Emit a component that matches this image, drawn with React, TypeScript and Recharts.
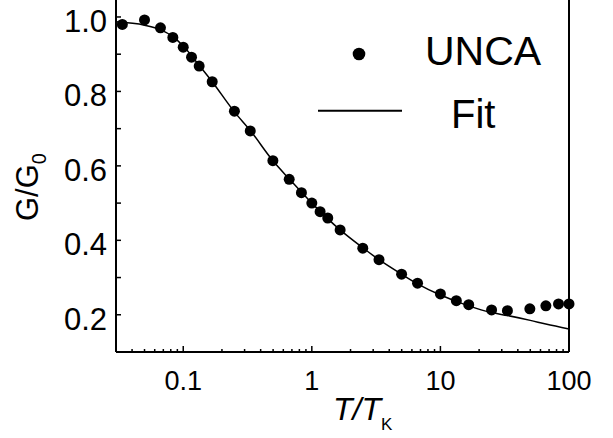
import React from "react";
import { ComposedChart, Scatter, Line, XAxis, YAxis } from "recharts";

// UNCA points
const uncaT = [
  0.0336, 0.05, 0.0665, 0.083, 0.1, 0.116, 0.133, 0.168, 0.25, 0.332, 0.498,
  0.667, 0.83, 1.0, 1.16, 1.33, 1.66, 2.49, 3.33, 4.99, 6.64, 10, 13.3, 16.6,
  25.0, 33.2, 49.6, 66.1, 82.9, 100,
];
const uncaG = [
  0.98, 0.992, 0.971, 0.945, 0.919, 0.892, 0.868, 0.826, 0.747, 0.694, 0.614,
  0.564, 0.528, 0.5, 0.477, 0.46, 0.428, 0.379, 0.348, 0.309, 0.285, 0.256,
  0.238, 0.227, 0.213, 0.211, 0.216, 0.224, 0.229, 0.229,
];

// fit curve, sampled from the figure
const fitT = [
  0.03, 0.05, 0.0665, 0.083, 0.1, 0.133, 0.168, 0.25, 0.332, 0.5, 0.667, 1.0,
  1.66, 2.49, 3.33, 4.99, 6.64, 10, 13.3, 16.6, 25, 33.2, 50, 66, 100,
];
const fitG = [
  0.987, 0.978, 0.966, 0.947, 0.922, 0.87, 0.826, 0.745, 0.695, 0.613, 0.565,
  0.5, 0.428, 0.38, 0.348, 0.309, 0.283, 0.253, 0.236, 0.224, 0.206, 0.198,
  0.185, 0.175, 0.162,
];

const xMajor = [0.1, 1, 10, 100];
const xMinor = [
  0.04, 0.05, 0.06, 0.07, 0.08, 0.09, 0.2, 0.3, 0.4, 0.5, 0.6, 0.7, 0.8, 0.9,
  2, 3, 4, 5, 6, 7, 8, 9, 20, 30, 40, 50, 60, 70, 80, 90,
];
const yTicks = [0.2, 0.3, 0.4, 0.5, 0.6, 0.7, 0.8, 0.9, 1.0];
const yLabels = [0.2, 0.4, 0.6, 0.8, 1.0];

const unca = uncaT.map((T, i) => ({ T, G: uncaG[i] }));
const fit = fitT.map((T, i) => ({ T, G: fitG[i] }));
const xTicks = [...xMinor, ...xMajor].sort((a, b) => a - b);

const FONT = "'Liberation Sans', Arial, sans-serif";
const X_DOMAIN = [0.03, 100];
const Y_DOMAIN = [0.1, 1.0456];

const BottomTick = (props: any) => {
  const { x, y, payload } = props;
  const major = xMajor.includes(payload.value);
  return (
    <g>
      <line x1={x} y1={y} x2={x} y2={y - (major ? 6 : 3)} stroke="#000" strokeWidth={1.5} />
      {major && (
        <text x={x} y={y + 38} textAnchor="middle" fontSize={27} fontFamily={FONT} fill="#000">
          {payload.value}
        </text>
      )}
    </g>
  );
};

const TopTick = (props: any) => {
  const { x, y, payload } = props;
  const major = xMajor.includes(payload.value);
  return <line x1={x} y1={y} x2={x} y2={y + (major ? 6 : 3)} stroke="#000" strokeWidth={1.5} />;
};

const LeftTick = (props: any) => {
  const { x, y, payload } = props;
  const labelled = yLabels.some((v) => Math.abs(v - payload.value) < 1e-6);
  return (
    <g>
      <line x1={x} y1={y} x2={x + 5} y2={y} stroke="#000" strokeWidth={1.5} />
      {labelled && (
        <text x={x - 9} y={y + 15} textAnchor="end" fontSize={31} fontFamily={FONT} fill="#000">
          {payload.value.toFixed(1)}
        </text>
      )}
    </g>
  );
};

const RightTick = (props: any) => {
  const { x, y } = props;
  return <line x1={x} y1={y} x2={x - 5} y2={y} stroke="#000" strokeWidth={1.5} />;
};

const Dot = (props: any) => <circle cx={props.cx} cy={props.cy} r={5.5} fill="#000" />;

export default function App() {
  return (
    <div style={{ position: "absolute", left: 0, top: 0, width: 613, height: 438, background: "#fff" }}>
      <ComposedChart width={613} height={438} margin={{ top: 0, right: 0, bottom: 0, left: 0 }}>
        <XAxis
          dataKey="T"
          type="number"
          scale="log"
          domain={X_DOMAIN}
          ticks={xTicks}
          interval={0}
          height={86}
          tickSize={0}
          tickMargin={0}
          tickLine={false}
          tick={<BottomTick />}
          axisLine={{ stroke: "#000", strokeWidth: 2 }}
          label={{
            content: () => (
              <text x={333} y={420} fontSize={32} fontStyle="italic" fontFamily={FONT} fill="#000">
                T/T
                <tspan fontSize={17} fontStyle="normal" dy={10}>K</tspan>
              </text>
            ),
          }}
        />
        <XAxis
          xAxisId="top"
          orientation="top"
          type="number"
          scale="log"
          domain={X_DOMAIN}
          ticks={xTicks}
          interval={0}
          height={0}
          tickSize={0}
          tickMargin={0}
          tickLine={false}
          tick={<TopTick />}
          axisLine={false}
        />
        <YAxis
          dataKey="G"
          type="number"
          domain={Y_DOMAIN}
          ticks={yTicks}
          interval={0}
          width={116}
          tickSize={0}
          tickMargin={0}
          tickLine={false}
          tick={<LeftTick />}
          axisLine={{ stroke: "#000", strokeWidth: 2 }}
          label={{
            content: () => (
              <text transform="translate(38,221) rotate(-90)" fontSize={31} fontFamily={FONT} fill="#000">
                G/G
                <tspan fontSize={20} dy={8}>0</tspan>
              </text>
            ),
          }}
        />
        <YAxis
          yAxisId="right"
          orientation="right"
          type="number"
          domain={Y_DOMAIN}
          ticks={yTicks}
          interval={0}
          width={44}
          tickSize={0}
          tickMargin={0}
          tickLine={false}
          tick={<RightTick />}
          axisLine={{ stroke: "#000", strokeWidth: 2 }}
        />
        <Line
          data={fit}
          dataKey="G"
          type="monotone"
          stroke="#000"
          strokeWidth={1.5}
          dot={false}
          activeDot={false}
          isAnimationActive={false}
        />
        <Scatter data={unca} dataKey="G" shape={<Dot />} isAnimationActive={false} />
      </ComposedChart>
      <svg
        width={613}
        height={438}
        style={{ position: "absolute", left: 0, top: 0, pointerEvents: "none" }}
      >
        <circle cx={359} cy={54} r={6.3} fill="#000" />
        <text x={425} y={65} fontSize={41} fontFamily={FONT} fill="#000">UNCA</text>
        <line x1={318} y1={110.7} x2={402} y2={110.7} stroke="#000" strokeWidth={2} />
        <text x={451} y={128} fontSize={40} fontFamily={FONT} fill="#000">Fit</text>
      </svg>
    </div>
  );
}
